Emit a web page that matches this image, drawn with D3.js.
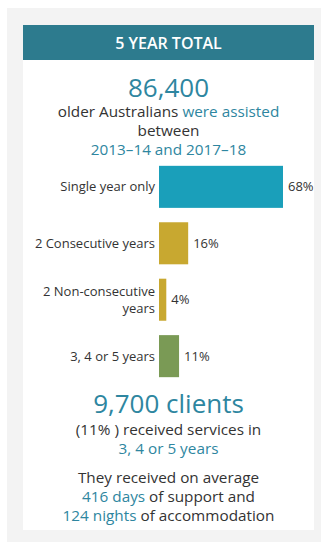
<!DOCTYPE html>
<html><head><meta charset="utf-8">
<script src="https://cdn.jsdelivr.net/npm/d3@7"></script>
<style>html,body{margin:0;padding:0;background:#fff;}svg{display:block;font-family:"Open Sans",sans-serif;}</style>
</head><body>
<script>
const categories = ["Single year only", "2 Consecutive years", "2 Non-consecutive years", "3, 4 or 5  years"];
const values = [68, 16, 4, 11];
const valueLabels = ["68%", "16%", "4%", "11%"];
const barColors = ["#1a9fba", "#c8a830", "#c8a830", "#7a9a55"];

const W = 326, H = 546;
const svg = d3.select("body").append("svg").attr("width", W).attr("height", H);
const blue = "#2e86a0", dark = "#333";
svg.append("rect").attr("x", 7).attr("y", 8).attr("width", 314).attr("height", 534).attr("fill", "#f3f3f3");
svg.append("rect").attr("x", 23).attr("y", 25).attr("width", 291).attr("height", 505).attr("fill", "#fff");
svg.append("rect").attr("x", 23).attr("y", 25).attr("width", 291).attr("height", 35).attr("fill", "#2d7b8e");
const cx = 168.5;
svg.append("text").attr("x", cx).attr("y", 49).attr("text-anchor", "middle").attr("fill", "#fff")
  .attr("font-size", 16).attr("font-weight", 600).text("5 YEAR TOTAL");

function line(y, parts, size, weight) {
  const t = svg.append("text").attr("x", cx).attr("y", y).attr("text-anchor", "middle")
    .attr("font-size", size);
  parts.forEach(p => t.append("tspan").attr("fill", p[1] ? blue : dark)
    .attr("font-weight", weight || (p[1] ? 500 : 400)).text(p[0]));
}
line(97, [["86,400", 1]], 26, 500);
line(117, [["older Australians ", 0], ["were assisted", 1]], 15.3);
line(136, [["between", 0]], 15.3);
line(155, [["2013–14 and 2017–18", 1]], 15.3);

const x = d3.scaleLinear().domain([0, 68]).range([159, 283]);
const y = d3.scaleBand().domain(categories).range([152, 391]).paddingInner(0.255).paddingOuter(0.245);
const g = svg.append("g");
g.selectAll("rect.bar").data(categories).enter().append("rect").attr("class", "bar")
  .attr("x", x(0)).attr("y", d => y(d)).attr("height", y.bandwidth())
  .attr("width", (d, i) => x(values[i]) - x(0)).attr("fill", (d, i) => barColors[i]);
g.selectAll("text.val").data(categories).enter().append("text").attr("class", "val")
  .attr("x", (d, i) => x(values[i]) + 5).attr("y", d => y(d) + y.bandwidth() / 2 + 4.5)
  .attr("font-size", 13).attr("fill", dark).text((d, i) => valueLabels[i]);
const wrap = {"2 Non-consecutive years": ["2 Non-consecutive", "years"]};
categories.forEach(c => {
  const lines = wrap[c] || [c];
  const t = g.append("text").attr("text-anchor", "end").attr("font-size", 13).attr("fill", dark);
  const mid = y(c) + y.bandwidth() / 2 + 4.5;
  lines.forEach((l, i) => t.append("tspan").attr("x", 155)
    .attr("y", mid + (i - (lines.length - 1) / 2) * 17).text(l));
});

line(413, [["9,700 clients", 1]], 26, 500);
line(435, [["(11% ) received services in", 0]], 15.3);
line(454, [["3, 4 or 5 years", 1]], 15.3);
line(483, [["They received on average", 0]], 15.3);
line(502, [["416 days", 1], [" of support and", 0]], 15.3);
line(521, [["124 nights", 1], [" of accommodation", 0]], 15.3);
</script>
</body></html>
